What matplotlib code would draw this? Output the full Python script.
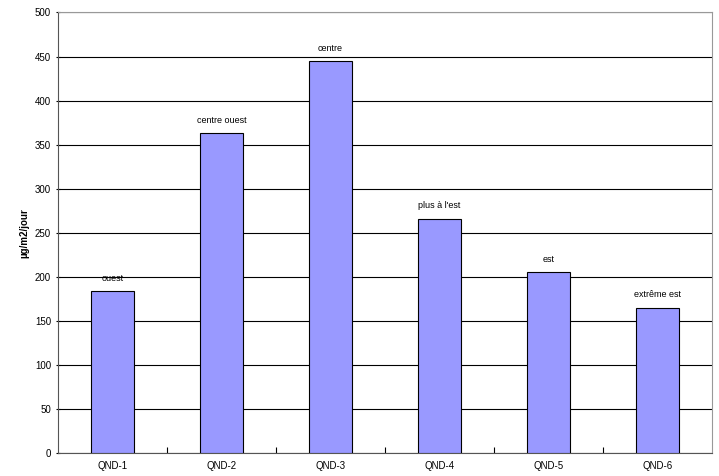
import matplotlib
matplotlib.use("Agg")
import matplotlib.pyplot as plt

categories = ["QND-1", "QND-2", "QND-3", "QND-4", "QND-5", "QND-6"]
values = [184, 363, 445, 266, 205, 165]
labels = ["ouest", "centre ouest", "centre", "plus à l'est", "est", "extrême est"]

plt.rcParams["font.family"] = ["Liberation Sans", "DejaVu Sans"]

fig = plt.figure(figsize=(7.19, 4.76), dpi=100)
ax = fig.add_axes([58 / 719, 1 - 453 / 476, 654 / 719, 440.5 / 476])

x = list(range(len(categories)))
bars = ax.bar(x, values, width=0.4, color="#9999ff", edgecolor="black", linewidth=0.8, zorder=3)
for xi, v, lab in zip(x, values, labels):
    ax.annotate(lab, xy=(xi, v), xytext=(0, 6), textcoords="offset points",
                ha="center", va="bottom", fontsize=6.5)

ax.set_xlim(-0.5, len(categories) - 0.5)
ax.set_ylim(0, 500)
ax.set_yticks(range(0, 501, 50))
ax.set_xticks([i + 0.5 for i in range(len(categories) - 1)], minor=False)
ax.set_xticklabels([])
ax.set_xticks(x, minor=True)
ax.set_xticklabels(categories, minor=True)
ax.tick_params(axis="x", which="minor", length=0, labelsize=7, pad=6)
ax.tick_params(axis="x", which="major", length=4, direction="in")
ax.tick_params(axis="y", labelsize=7, length=3, direction="inout")
ax.yaxis.grid(True, color="black", linewidth=0.8, zorder=0)
ax.set_axisbelow(True)
for s in ["top", "right"]:
    ax.spines[s].set_color("#999999")
for s in ["left", "bottom"]:
    ax.spines[s].set_color("#555555")
ax.set_ylabel("µg/m2/jour", fontsize=7, fontweight="bold", labelpad=4)

fig.savefig("out.png", dpi=100)
